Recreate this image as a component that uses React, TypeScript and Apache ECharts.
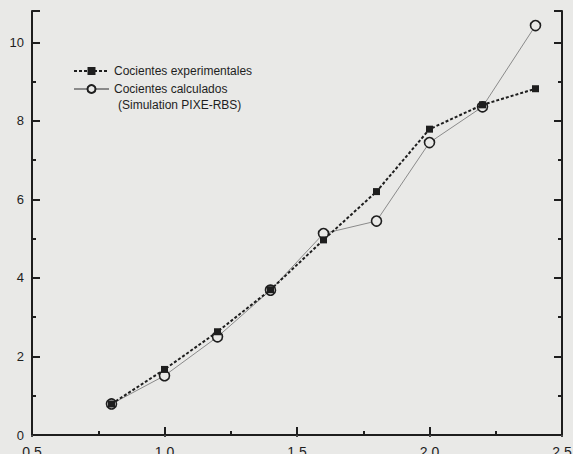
import React, { useEffect, useRef } from "react";
import * as echarts from "echarts";

const xValues = [0.8, 1.0, 1.2, 1.4, 1.6, 1.8, 2.0, 2.2, 2.4];
const experimental = [0.79, 1.67, 2.63, 3.7, 4.97, 6.2, 7.79, 8.41, 8.82];
const calculated = [0.79, 1.51, 2.5, 3.69, 5.13, 5.45, 7.45, 8.36, 10.43];
const seriesNames = ["Cocientes experimentales", "Cocientes calculados"];
const legendNote = "(Simulation PIXE-RBS)";

const BG = "#e9e9e7";
const INK = "#1e1e1e";
const FONT = "'Liberation Sans', Arial, sans-serif";

export default function App() {
  const ref = useRef<HTMLDivElement>(null);
  useEffect(() => {
    if (!ref.current) return;
    const chart = echarts.init(ref.current, undefined, { renderer: "svg" });
    const pairs = (ys: number[]) => xValues.map((x, i) => [x, ys[i]]);
    chart.setOption({
      animation: false,
      backgroundColor: BG,
      textStyle: { fontFamily: FONT },
      grid: { left: 32, right: 11, top: 11, bottom: 19, outerBoundsMode: "none", containLabel: false },
      legend: {
        orient: "vertical",
        left: 68,
        top: 60,
        itemWidth: 35,
        itemHeight: 10,
        itemGap: 6,
        data: seriesNames,
        textStyle: { fontFamily: FONT, fontSize: 12, color: INK },
      },
      graphic: [
        {
          type: "text",
          left: 118,
          top: 99,
          style: { text: legendNote, font: `12px ${FONT}`, fill: INK },
        },
      ],
      xAxis: [
        {
          type: "value",
          min: 0.5,
          max: 2.5,
          interval: 0.5,
          position: "bottom",
          axisLine: { lineStyle: { color: INK, width: 2 } },
          axisTick: { inside: true, length: 8, lineStyle: { color: INK, width: 2 } },
          minorTick: { show: true, splitNumber: 2, length: 4, lineStyle: { color: INK, width: 2 } },
          axisLabel: {
            margin: 10,
            fontSize: 14,
            color: INK,
            fontFamily: FONT,
            formatter: (v: number) => v.toFixed(1),
          },
          splitLine: { show: false },
        },
        {
          type: "value",
          min: 0.5,
          max: 2.5,
          interval: 0.5,
          position: "top",
          axisLine: { show: false },
          axisTick: { inside: true, length: 2, lineStyle: { color: "#444", width: 2 } },
          axisLabel: { show: false },
          splitLine: { show: false },
        },
      ],
      yAxis: [
        {
          type: "value",
          min: 0,
          max: 10.8,
          interval: 2,
          position: "left",
          axisLine: { show: true, lineStyle: { color: INK, width: 2 } },
          axisTick: { show: true, inside: true, length: 8, lineStyle: { color: INK, width: 2 } },
          minorTick: { show: true, splitNumber: 2, length: 4, lineStyle: { color: INK, width: 2 } },
          axisLabel: {
            margin: 8,
            fontSize: 13,
            color: INK,
            fontFamily: FONT,
            showMaxLabel: false,
          },
          splitLine: { show: false },
        },
        {
          type: "value",
          min: 0,
          max: 10.8,
          interval: 2,
          position: "right",
          axisLine: { show: true, lineStyle: { color: INK, width: 2 } },
          axisTick: { show: true, inside: true, length: 8, lineStyle: { color: INK, width: 2 } },
          minorTick: { show: true, splitNumber: 2, length: 4, lineStyle: { color: INK, width: 2 } },
          axisLabel: { show: false },
          splitLine: { show: false },
        },
      ],
      series: [
        {
          name: seriesNames[1],
          type: "line",
          data: pairs(calculated),
          symbol: "circle",
          symbolSize: 10,
          z: 2,
          lineStyle: { color: "#8a8a8a", width: 1 },
          itemStyle: { color: BG, borderColor: INK, borderWidth: 1.6 },
        },
        {
          name: seriesNames[0],
          type: "line",
          data: pairs(experimental),
          symbol: "rect",
          symbolSize: 7,
          z: 3,
          lineStyle: { color: INK, width: 2, type: [3, 2] },
          itemStyle: { color: INK },
        },
      ],
    });
    return () => chart.dispose();
  }, []);
  return (
    <div
      ref={ref}
      style={{ position: "fixed", left: 0, top: 0, width: 573, height: 454 }}
    />
  );
}
